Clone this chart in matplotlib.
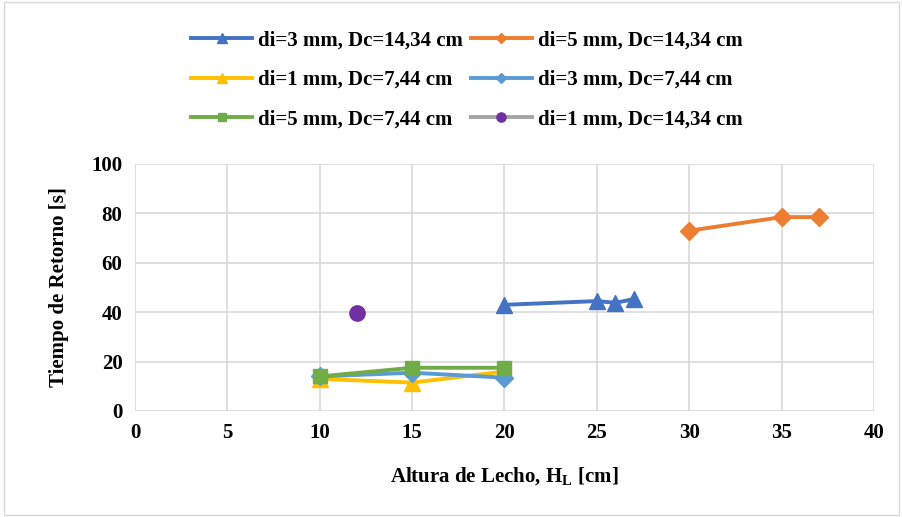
import matplotlib
matplotlib.use("Agg")
import matplotlib.pyplot as plt
from matplotlib.patches import Rectangle

plt.rcParams['font.family'] = ['Liberation Serif', 'DejaVu Serif']
plt.rcParams['font.weight'] = 'bold'
plt.rcParams['mathtext.fontset'] = 'custom'
plt.rcParams['mathtext.rm'] = 'Liberation Serif:bold'
plt.rcParams['mathtext.bf'] = 'Liberation Serif:bold'

labels = ["di=3 mm, Dc=14,34 cm", "di=5 mm, Dc=14,34 cm", "di=1 mm, Dc=7,44 cm",
          "di=3 mm, Dc=7,44 cm", "di=5 mm, Dc=7,44 cm", "di=1 mm, Dc=14,34 cm"]
x_s1 = [20, 25, 26, 27]; y_s1 = [43.0, 44.5, 43.8, 45.3]
x_s2 = [30, 35, 37]; y_s2 = [73.0, 78.5, 78.5]
x_s3 = [10, 15, 20]; y_s3 = [13.0, 11.5, 16.0]
x_s4 = [10, 15, 20]; y_s4 = [14.0, 15.5, 13.5]
x_s5 = [10, 15, 20]; y_s5 = [14.0, 17.5, 17.5]
x_s6 = [12]; y_s6 = [39.5]

fig = plt.figure(figsize=(9.03, 5.17), dpi=100)
ax = fig.add_axes([135/903, 1-411/517, (874-135)/903, (411-164)/517])

lw = 2.8
ax.plot(x_s1, y_s1, color='#4472C4', marker='^', ms=11, lw=lw, label=labels[0], zorder=3)
ax.plot(x_s2, y_s2, color='#ED7D31', marker='D', ms=9, lw=lw, label=labels[1], zorder=3)
ax.plot(x_s3, y_s3, color='#FFC000', marker='^', ms=11, lw=lw, label=labels[2], zorder=3)
ax.plot(x_s4, y_s4, color='#5B9BD5', marker='D', ms=9, lw=lw, label=labels[3], zorder=3)
ax.plot(x_s5, y_s5, color='#70AD47', marker='s', ms=10, lw=lw, label=labels[4], zorder=3)
ax.plot(x_s6, y_s6, color='#A5A5A5', marker='o', ms=11, mfc='#7030A0', mec='#7030A0',
        lw=lw, label=labels[5], zorder=3)

ax.set_xlim(0, 40)
ax.set_ylim(0, 100)
ax.set_xticks(range(0, 41, 5))
ax.set_yticks(range(0, 101, 20))
ax.grid(True, color='#D9D9D9', lw=1.2)
ax.set_axisbelow(True)
for s in ax.spines.values():
    s.set_visible(False)
ax.tick_params(length=0, labelsize=15, pad=9)
for t in ax.get_xticklabels() + ax.get_yticklabels():
    t.set_fontweight('bold')

ax.set_xlabel("Altura de Lecho, H$_\\mathrm{L}$ [cm]", fontsize=15, fontweight='bold', labelpad=16)
ax.set_ylabel("Tiempo de Retorno [s]", fontsize=15, fontweight='bold', labelpad=16)

handles, labs = ax.get_legend_handles_labels()
order = [0, 2, 4, 1, 3, 5]
leg = fig.legend([handles[i] for i in order], [labs[i] for i in order], ncol=2,
                 loc='center', bbox_to_anchor=(467/903, 1-80/517), frameon=False,
                 prop={'size': 15, 'weight': 'bold'}, handlelength=2.9, columnspacing=0.4,
                 handletextpad=0.3, labelspacing=0.95, markerscale=0.6)

fig.patches.append(Rectangle((0.004, 0.004), 0.992, 0.992, transform=fig.transFigure,
                             fill=False, edgecolor='#D9D9D9', lw=1))
fig.savefig("out.png", dpi=100)
